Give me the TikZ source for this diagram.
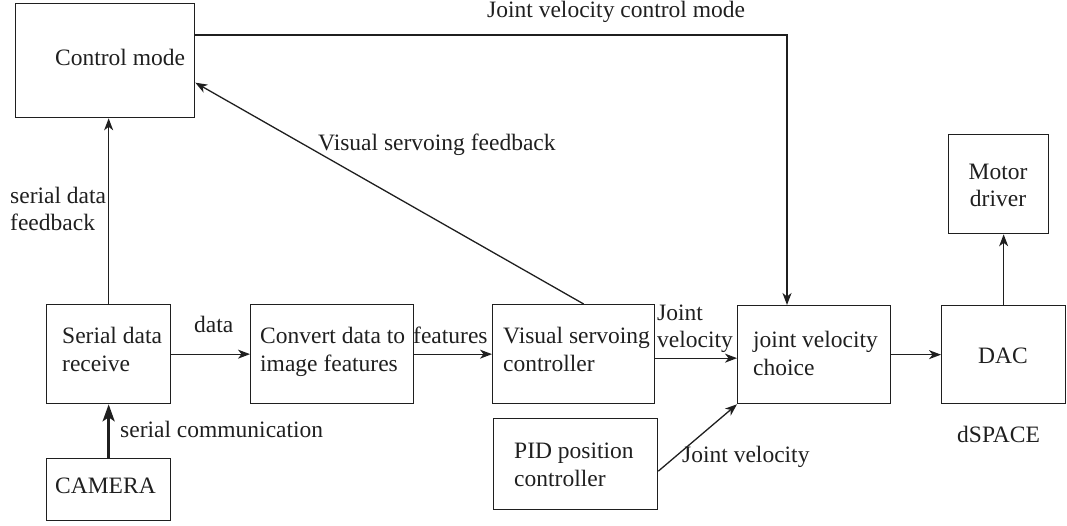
\documentclass[tikz,border=0pt]{standalone}
\usepackage{fontspec}
\setmainfont{Liberation Serif}
\usetikzlibrary{arrows.meta,calc}
\begin{document}
\begin{tikzpicture}[x=1pt,y=-1pt,
  box/.style={draw=black!88, line width=1.3pt, inner sep=0pt, anchor=north west},
  txt/.style={anchor=base west, inner sep=0pt, font=\fontsize{23.5}{28}\selectfont, text=black!88},
  ctxt/.style={txt, anchor=base},
  arr/.style={line width=1.3pt, draw=black!88, -{Stealth[length=12pt,width=9pt,inset=3.5pt]}},
  thickarr/.style={line width=2.8pt, draw=black!88, -{Stealth[length=17pt,width=12pt,inset=4pt]}}
]
\useasboundingbox (0,0) rectangle (1067,525);

% boxes
\node[box, minimum width=179pt, minimum height=114pt] (ctrl) at (15,3) {};
\node[box, minimum width=124pt, minimum height=99pt] (sdr) at (46,304) {};
\node[box, minimum width=124pt, minimum height=62pt] (cam) at (46,458) {};
\node[box, minimum width=163pt, minimum height=99pt] (conv) at (250,304) {};
\node[box, minimum width=162pt, minimum height=99pt] (vsc) at (492,304) {};
\node[box, minimum width=153pt, minimum height=98pt] (jvc) at (737,305) {};
\node[box, minimum width=164pt, minimum height=91pt] (pid) at (493,418) {};
\node[box, minimum width=124pt, minimum height=98pt] (dac) at (941,305) {};
\node[box, minimum width=100pt, minimum height=99pt] (mot) at (948,134) {};

% box texts
\node[txt] (tctrl) at (55,65) {Control mode};
\node[txt] (tsdr1) at (62,343) {Serial data};
\node[txt] (tsdr2) at (62,371) {receive};
\node[txt] (tcam) at (55,493) {CAMERA};
\node[txt] (tconv1) at (260,343) {Convert data to};
\node[txt] (tconv2) at (260,371) {image features};
\node[txt] (tvsc1) at (503,343) {Visual servoing};
\node[txt] (tvsc2) at (503,371) {controller};
\node[txt] (tjvc1) at (753,347) {joint velocity};
\node[txt] (tjvc2) at (753,375) {choice};
\node[txt] (tpid1) at (514,458) {PID position};
\node[txt] (tpid2) at (514,486) {controller};
\node[ctxt] (tdac) at (1003,363) {DAC};
\node[ctxt] (tmot1) at (998,179) {Motor};
\node[ctxt] (tmot2) at (998,206) {driver};

% labels
\node[txt] (ljvcm) at (487,17) {Joint velocity control mode};
\node[txt] (lvsf) at (318,150) {Visual servoing feedback};
\node[txt] (lsdf1) at (10,203) {serial data};
\node[txt] (lsdf2) at (10,230) {feedback};
\node[txt] (ldata) at (194,332) {data};
\node[txt] (lfeat) at (413,343) {features};
\node[txt] (ljv1) at (657,320) {Joint};
\node[txt] (ljv2) at (657,347) {velocity};
\node[txt] (lsc) at (120,437) {serial communication};
\node[txt] (ljv3) at (682,462) {Joint velocity};
\node[txt] (ldsp) at (957,442) {dSPACE};

% connectors
\draw[arr] (sdr) -- (conv);
\draw[arr] (conv) -- (vsc);
\draw[arr] ($(vsc.east)+(0,4)$) coordinate (vj) -- (vj -| jvc.west);
\draw[arr] (jvc) -- (dac);
\draw[arr] (dac.north) -- (dac.north |- mot.south);
\draw[arr] (sdr.north) -- (sdr.north |- ctrl.south);
\draw[thickarr] (cam) -- (sdr);
\draw[arr] ($(pid.east)+(0,7)$) -- (jvc.south west);
\draw[arr] ($(vsc.north)+(10,0)$) -- ($(ctrl.east)+(0,22)$);
\coordinate (turn) at (787,35);
\draw[arr] (ctrl.east |- turn) -- (turn) -- (turn |- jvc.north);
\end{tikzpicture}
\end{document}
